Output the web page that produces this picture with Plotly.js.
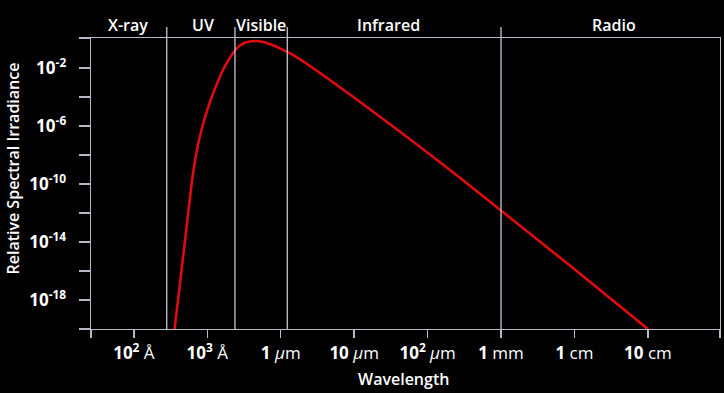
<!DOCTYPE html>
<html>
<head>
<meta charset="utf-8">
<script src="https://cdn.plot.ly/plotly-3.0.1.min.js"></script>
<style>
  html, body { margin: 0; padding: 0; background: #000; }
  #chart { width: 724px; height: 393px; }
</style>
</head>
<body>
<div id="chart"></div>
<script>
// Wavelength (m) and relative spectral irradiance
const wavelength_m = [3.57e-8, 4.25e-8, 5.05e-8, 6.05e-8, 6.68e-8, 7.46e-8, 8.47e-8, 9.59e-8,
  1.087e-7, 1.233e-7, 1.41e-7, 1.61e-7, 1.837e-7, 2.38e-7, 2.79e-7, 3.26e-7,
  3.94e-7, 4.70e-7, 5.56e-7, 6.44e-7, 7.84e-7, 9.77e-7, 1.216e-6, 1.482e-6,
  3.24e-6, 9.25e-6, 4.21e-5, 2.02e-4, 9.98e-4, 9.55e-3, 0.1];
const irradiance = [8.3e-21, 1.44e-17, 2.51e-14, 6.3e-11, 2.32e-9, 4.74e-8, 7.05e-7, 6.52e-6,
  4.38e-5, 2.51e-4, 1.33e-3, 6.01e-3, 2.14e-2, 0.156, 0.345, 0.538,
  0.673, 0.705, 0.621, 0.513, 0.356, 0.221, 0.127, 7.40e-2,
  5.38e-3, 1.17e-4, 3.92e-7, 8.95e-10, 1.44e-12, 1.56e-16, 9.7e-21];

// Band boundaries (m), band names and where each name sits (m)
const bandEdges = [2.80e-8, 2.38e-7, 1.23e-6, 1e-3];
const bandNames = ["X-ray", "UV", "Visible", "Infrared", "Radio"];
const bandLabelAt = [8.4e-9, 8.7e-8, 5.4e-7, 2.9e-5, 3.45e-2];

// Axis ticks
const xTickVals = [2.61e-9, 1e-8, 1e-7, 1e-6, 1e-5, 1e-4, 1e-3, 1e-2, 1e-1, 0.959];
const xTickText = ["", "<b>10<sup>2</sup></b> Å", "<b>10<sup>3</sup></b> Å", "<b>1</b> <i>μ</i>m",
  "<b>10</b> <i>μ</i>m", "<b>10<sup>2</sup></b> <i>μ</i>m", "<b>1</b> mm", "<b>1</b> cm", "<b>10</b> cm", ""];
const yTickVals = [1.135, 1e-2, 1e-4, 1e-6, 1e-8, 1e-10, 1e-12, 1e-14, 1e-16, 1e-18, 9.8e-21];
const yTickText = ["", "<b>10<sup>-2</sup></b>", "", "<b>10<sup>-6</sup></b>", "", "<b>10<sup>-10</sup></b>",
  "", "<b>10<sup>-14</sup></b>", "", "<b>10<sup>-18</sup></b>", ""];

const gridCol = "#b8b8c6";
const FONT = "Open Sans, Noto Sans, sans-serif";

const trace = {
  x: wavelength_m,
  y: irradiance,
  type: "scatter",
  mode: "lines",
  line: { color: "#e00b0b", width: 2.6, shape: "spline", smoothing: 0.9 },
  hoverinfo: "skip"
};

const shapes = bandEdges.map(v => ({
  type: "line", xref: "x", yref: "paper",
  x0: v, x1: v, y0: 0, y1: 1.038,
  line: { color: gridCol, width: 1.4 }
}));

const annotations = bandNames.map((n, i) => ({
  text: n,
  xref: "x", yref: "paper",
  x: Math.log10(bandLabelAt[i]), y: 1.045,
  xanchor: "center", yanchor: "middle",
  showarrow: false,
  font: { family: FONT, size: 16, weight: 600, color: "#ffffff" }
}));

// Axis titles
annotations.push({
  text: "Wavelength", xref: "paper", yref: "paper",
  x: 0.4976, y: -0.172, xanchor: "center", yanchor: "middle", showarrow: false,
  font: { family: FONT, size: 16, weight: 600, color: "#ffffff" }
});
annotations.push({
  text: "Relative Spectral Irradiance", xref: "paper", yref: "paper",
  x: -0.124, y: 0.5515, xanchor: "center", yanchor: "middle", showarrow: false,
  textangle: -90,
  font: { family: FONT, size: 16, weight: 600, color: "#ffffff" }
});

const layout = {
  width: 724, height: 393,
  paper_bgcolor: "#000000", plot_bgcolor: "#000000",
  margin: { l: 91, r: 4, t: 38, b: 64 },
  showlegend: false,
  xaxis: {
    type: "log",
    range: [-8.584, -0.018],
    tickmode: "array", tickvals: xTickVals, ticktext: xTickText,
    ticks: "outside", ticklen: 8, tickwidth: 1.4, tickcolor: gridCol,
    showline: true, linecolor: gridCol, linewidth: 1.4, mirror: true,
    showgrid: false, zeroline: false,
    ticklabelstandoff: 0,
    tickfont: { family: FONT, size: 17, color: "#ffffff" }
  },
  yaxis: {
    type: "log",
    range: [-20.01, 0.055],
    tickmode: "array", tickvals: yTickVals, ticktext: yTickText,
    ticks: "outside", ticklen: 11, tickwidth: 1.4, tickcolor: gridCol,
    showline: true, linecolor: gridCol, linewidth: 1.4, mirror: true,
    showgrid: false, zeroline: false,
    ticklabelstandoff: 9,
    tickfont: { family: FONT, size: 17, color: "#ffffff" }
  },
  shapes: shapes,
  annotations: annotations
};

Plotly.newPlot("chart", [trace], layout, { displayModeBar: false, staticPlot: true });
</script>
</body>
</html>
